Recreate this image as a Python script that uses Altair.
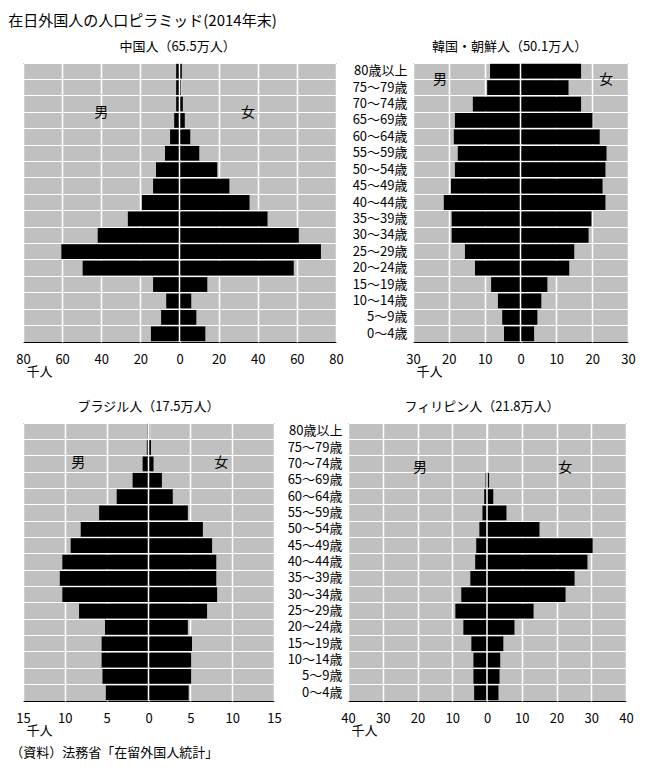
import altair as alt
import pandas as pd

FONT = "Noto Sans CJK JP"

# age groups, top (oldest) to bottom (youngest)
ages = ["80歳以上", "75〜79歳", "70〜74歳", "65〜69歳", "60〜64歳", "55〜59歳",
        "50〜54歳", "45〜49歳", "40〜44歳", "35〜39歳", "30〜34歳", "25〜29歳",
        "20〜24歳", "15〜19歳", "10〜14歳", "5〜9歳", "0〜4歳"]

# values in thousands of people (千人)
china_male = [1.7, 1.7, 1.7, 2.7, 4.8, 7.4, 12.0, 13.5, 19.2, 26.4, 41.8, 60.4, 49.5, 13.5, 6.8, 9.4, 14.6]
china_female = [1.2, 0.7, 1.7, 2.7, 5.5, 10.1, 19.3, 25.5, 35.8, 45.0, 61.0, 72.3, 58.4, 14.2, 6.0, 8.6, 13.2]

korea_male = [8.5, 9.3, 13.3, 18.3, 18.6, 17.5, 18.3, 19.4, 21.4, 19.2, 19.2, 15.5, 12.7, 8.2, 6.3, 5.1, 4.6]
korea_female = [16.9, 13.4, 16.9, 20.1, 22.1, 24.0, 23.7, 22.9, 23.7, 19.8, 19.0, 15.0, 13.6, 7.5, 5.8, 4.7, 3.8]

brazil_male = [0.1, 0.2, 0.7, 1.9, 3.8, 5.9, 8.1, 9.3, 10.3, 10.6, 10.3, 8.3, 5.2, 5.6, 5.6, 5.5, 5.1]
brazil_female = [0.1, 0.3, 0.6, 1.6, 2.9, 4.7, 6.5, 7.6, 8.1, 8.1, 8.2, 7.0, 4.7, 5.2, 5.1, 5.1, 4.8]

phil_male = [0.0, 0.0, 0.0, 0.4, 0.8, 1.3, 2.2, 3.1, 3.4, 4.8, 7.4, 9.1, 6.8, 4.5, 3.9, 3.9, 3.7]
phil_female = [0.0, 0.0, 0.0, 0.6, 1.8, 5.6, 15.1, 30.4, 28.9, 25.2, 22.6, 13.4, 7.9, 4.7, 3.8, 3.6, 3.3]

sex_labels = ["男", "女"]

main_title = "在日外国人の人口ピラミッド(2014年末)"
footer = "（資料）法務省「在留外国人統計」"


def pyramid(male, female, dom, step, title, show_labels, w, h,
            lab_x, lab_y, tdx):
    df = pd.DataFrame({
        "age": ages * 2,
        "sex": ["男"] * len(ages) + ["女"] * len(ages),
        "value": [-v for v in male] + list(female),
    })
    xscale = alt.Scale(domain=[-dom, dom], nice=False)
    ticks = list(range(-dom, dom + 1, step))
    xaxis = alt.Axis(values=ticks, labelExpr="abs(datum.value)",
                     grid=True, gridColor="white", gridWidth=1.5, gridOpacity=1,
                     ticks=False, domain=False, labelPadding=11, labelFlush=False,
                     labelFontSize=13, labelColor="black", labelFont=FONT,
                     title="千人", titleX=16, titleY=29, titleAlign="center",
                     titleBaseline="middle", titleFontSize=13,
                     titleFontWeight="normal", titleColor="black", titleFont=FONT,
                     minExtent=0)
    yaxis = alt.Axis(title=None, grid=True, gridColor="white", gridWidth=1,
                     gridOpacity=1, bandPosition=0, ticks=False, domain=False,
                     labels=show_labels, labelFontSize=13, labelPadding=6,
                     labelColor="black", labelFont=FONT, minExtent=0)
    yscale = alt.Scale(paddingInner=0, paddingOuter=0)

    bars = alt.Chart(df).mark_bar(
        color="black", height=alt.RelativeBandSize(0.9)
    ).encode(
        x=alt.X("value:Q", scale=xscale, axis=xaxis),
        y=alt.Y("age:N", sort=ages, scale=yscale, axis=yaxis),
    )
    center = alt.Chart(pd.DataFrame({"value": [0]})).mark_rule(
        color="white", strokeWidth=1.5
    ).encode(x=alt.X("value:Q", scale=xscale, axis=xaxis))
    lab = alt.Chart(pd.DataFrame({"t": sex_labels, "value": lab_x})).mark_text(
        fontSize=14, color="black", font=FONT
    ).encode(
        x=alt.X("value:Q", scale=xscale, axis=xaxis),
        y=alt.value(lab_y),
        text="t:N",
    )
    return alt.layer(bars, center, lab).properties(
        width=w, height=h,
        title=alt.TitleParams(title, fontSize=13, fontWeight="normal",
                              font=FONT, color="black", offset=8,
                              anchor="middle", frame="group", dx=tdx),
    )


china = pyramid(china_male, china_female, 80, 20, "中国人（65.5万人）", False,
                313, 279, [-40, 35], 50, -2)
korea = pyramid(korea_male, korea_female, 30, 10, "韓国・朝鮮人（50.1万人）", True,
                215, 279, [-22.5, 23.9], 17, -11)
brazil = pyramid(brazil_male, brazil_female, 15, 5, "ブラジル人（17.5万人）", False,
                 251, 278, [-8.4, 8.7], 40, 0)
phil = pyramid(phil_male, phil_female, 40, 10, "フィリピン人（21.8万人）", True,
               278, 278, [-19.3, 22.5], 45, -5)

top = alt.hconcat(china, korea, spacing=7)
bottom = alt.hconcat(brazil, phil, spacing=4)

inner = alt.vconcat(top, bottom, spacing=21,
                    title=alt.TitleParams(footer, orient="bottom", anchor="start",
                                          fontSize=13, fontWeight="normal",
                                          font=FONT, color="black", offset=9,
                                          dx=-5))

chart = alt.vconcat(inner, title=alt.TitleParams(main_title, anchor="start",
                                                 fontSize=15, fontWeight="normal",
                                                 font=FONT, color="black",
                                                 offset=12, dx=-2)).properties(
    padding={"left": 0, "top": 5, "right": 5, "bottom": 5}
).configure(
    font=FONT
).configure_view(
    fill="#c0c0c0", stroke="black", strokeWidth=1
)

chart.save("out.html", embed_options={"renderer": "svg", "actions": False})
